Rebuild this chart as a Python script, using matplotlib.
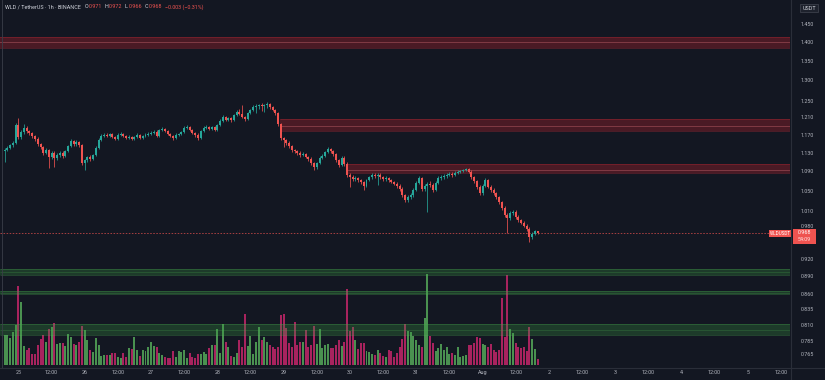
import numpy as np
import pandas as pd
import matplotlib
matplotlib.use("Agg")
import matplotlib.pyplot as plt
import matplotlib.dates as mdates
from matplotlib.lines import Line2D
from matplotlib.patches import Rectangle

# ---------------- data (WLD/USDT, 1h, Binance) ----------------
start_time = "2025-07-24 19:00"
first_open = 1.133
closes = [
    1.136, 1.141, 1.147, 1.152, 1.192, 1.165, 1.176, 1.186, 1.179, 1.174,
    1.167, 1.161, 1.149, 1.143, 1.130, 1.136, 1.121, 1.130, 1.119, 1.125,
    1.130, 1.123, 1.134, 1.145, 1.156, 1.149, 1.154, 1.147, 1.108, 1.114,
    1.121, 1.117, 1.125, 1.141, 1.158, 1.167, 1.170, 1.167, 1.172, 1.165,
    1.161, 1.170, 1.172, 1.167, 1.163, 1.165, 1.161, 1.165, 1.170, 1.163,
    1.167, 1.170, 1.172, 1.174, 1.176, 1.167, 1.181, 1.183, 1.179, 1.172,
    1.167, 1.163, 1.170, 1.172, 1.176, 1.186, 1.188, 1.181, 1.174, 1.170,
    1.163, 1.179, 1.186, 1.188, 1.183, 1.188, 1.181, 1.192, 1.202, 1.211,
    1.204, 1.209, 1.204, 1.216, 1.223, 1.218, 1.211, 1.206, 1.220, 1.228,
    1.235, 1.237, 1.239, 1.237, 1.239, 1.242, 1.235, 1.228, 1.220, 1.195,
    1.163, 1.158, 1.152, 1.145, 1.136, 1.134, 1.130, 1.125, 1.127, 1.121,
    1.117, 1.108, 1.099, 1.108, 1.119, 1.123, 1.132, 1.138, 1.134, 1.127,
    1.114, 1.104, 1.119, 1.106, 1.083, 1.078, 1.074, 1.076, 1.072, 1.068,
    1.060, 1.072, 1.078, 1.083, 1.080, 1.083, 1.078, 1.074, 1.076, 1.072,
    1.068, 1.064, 1.060, 1.054, 1.041, 1.031, 1.037, 1.041, 1.052, 1.066,
    1.076, 1.054, 1.060, 1.064, 1.062, 1.052, 1.066, 1.076, 1.078, 1.080,
    1.083, 1.085, 1.083, 1.087, 1.089, 1.091, 1.093, 1.095, 1.089, 1.078,
    1.070, 1.058, 1.045, 1.060, 1.072, 1.058, 1.052, 1.045, 1.037, 1.027,
    1.016, 1.002, 0.996, 1.006, 1.008, 0.998, 0.992, 0.987, 0.981, 0.975,
    0.960, 0.966, 0.971, 0.968,
]
highs = [
    1.140, 1.144, 1.150, 1.156, 1.198, 1.209, 1.180, 1.195, 1.190, 1.182,
    1.177, 1.170, 1.164, 1.152, 1.146, 1.140, 1.139, 1.134, 1.133, 1.129,
    1.134, 1.133, 1.137, 1.148, 1.160, 1.159, 1.158, 1.157, 1.150, 1.117,
    1.124, 1.125, 1.128, 1.144, 1.162, 1.171, 1.174, 1.173, 1.175, 1.175,
    1.168, 1.173, 1.176, 1.175, 1.170, 1.169, 1.168, 1.168, 1.173, 1.172,
    1.170, 1.173, 1.176, 1.178, 1.181, 1.180, 1.184, 1.187, 1.186, 1.182,
    1.175, 1.170, 1.173, 1.175, 1.179, 1.189, 1.192, 1.191, 1.184, 1.177,
    1.173, 1.182, 1.189, 1.192, 1.191, 1.191, 1.191, 1.195, 1.206, 1.215,
    1.214, 1.212, 1.212, 1.219, 1.227, 1.230, 1.239, 1.214, 1.223, 1.231,
    1.239, 1.241, 1.243, 1.244, 1.242, 1.246, 1.245, 1.238, 1.231, 1.223,
    1.198, 1.166, 1.161, 1.155, 1.148, 1.139, 1.137, 1.133, 1.131, 1.130,
    1.124, 1.120, 1.111, 1.111, 1.122, 1.127, 1.135, 1.143, 1.141, 1.137,
    1.130, 1.117, 1.122, 1.122, 1.109, 1.086, 1.082, 1.080, 1.079, 1.075,
    1.071, 1.075, 1.081, 1.086, 1.087, 1.086, 1.087, 1.081, 1.080, 1.079,
    1.075, 1.071, 1.067, 1.063, 1.057, 1.044, 1.041, 1.045, 1.055, 1.069,
    1.080, 1.079, 1.064, 1.068, 1.070, 1.066, 1.069, 1.080, 1.082, 1.084,
    1.086, 1.088, 1.088, 1.090, 1.092, 1.094, 1.096, 1.098, 1.098, 1.092,
    1.081, 1.073, 1.061, 1.063, 1.076, 1.075, 1.061, 1.055, 1.048, 1.040,
    1.030, 1.019, 1.005, 1.009, 1.011, 1.011, 1.001, 0.995, 0.990, 0.984,
    0.978, 0.969, 0.974, 0.972,
]
lows = [
    1.110, 1.133, 1.138, 1.143, 1.149, 1.161, 1.161, 1.172, 1.175, 1.170,
    1.163, 1.157, 1.146, 1.139, 1.126, 1.127, 1.097, 1.117, 1.100, 1.115,
    1.121, 1.119, 1.120, 1.131, 1.142, 1.145, 1.146, 1.143, 1.104, 1.093,
    1.111, 1.113, 1.114, 1.122, 1.138, 1.155, 1.164, 1.164, 1.164, 1.162,
    1.158, 1.158, 1.167, 1.164, 1.160, 1.160, 1.158, 1.158, 1.162, 1.160,
    1.160, 1.164, 1.167, 1.169, 1.171, 1.164, 1.164, 1.178, 1.176, 1.169,
    1.164, 1.159, 1.160, 1.167, 1.169, 1.173, 1.183, 1.178, 1.171, 1.166,
    1.159, 1.160, 1.176, 1.183, 1.180, 1.180, 1.178, 1.178, 1.189, 1.199,
    1.201, 1.201, 1.200, 1.201, 1.213, 1.215, 1.208, 1.202, 1.203, 1.217,
    1.225, 1.220, 1.230, 1.225, 1.222, 1.232, 1.231, 1.224, 1.216, 1.191,
    1.158, 1.143, 1.148, 1.141, 1.132, 1.130, 1.126, 1.121, 1.122, 1.118,
    1.113, 1.104, 1.094, 1.096, 1.105, 1.116, 1.120, 1.129, 1.130, 1.124,
    1.110, 1.100, 1.101, 1.102, 1.079, 1.058, 1.070, 1.071, 1.068, 1.064,
    1.052, 1.057, 1.069, 1.075, 1.077, 1.062, 1.075, 1.071, 1.071, 1.068,
    1.065, 1.061, 1.056, 1.050, 1.037, 1.027, 1.028, 1.034, 1.038, 1.049,
    1.063, 1.050, 1.050, 1.008, 1.058, 1.048, 1.049, 1.063, 1.073, 1.075,
    1.077, 1.080, 1.079, 1.080, 1.084, 1.086, 1.088, 1.090, 1.086, 1.075,
    1.066, 1.054, 1.041, 1.042, 1.057, 1.055, 1.048, 1.041, 1.033, 1.023,
    1.012, 0.998, 0.968, 0.993, 1.002, 0.995, 0.989, 0.984, 0.978, 0.972,
    0.951, 0.957, 0.963, 0.966,
]
volumes = [
    90, 90, 82, 100, 120, 237, 190, 57, 45, 50,
    33, 33, 60, 78, 90, 70, 107, 115, 125, 62,
    65, 65, 57, 93, 85, 63, 60, 70, 117, 105,
    75, 45, 40, 80, 60, 27, 30, 30, 30, 35,
    35, 25, 20, 35, 25, 50, 47, 83, 45, 27,
    45, 43, 53, 70, 57, 53, 35, 30, 23, 20,
    20, 43, 23, 43, 40, 45, 22, 35, 25, 20,
    32, 33, 40, 33, 50, 60, 60, 107, 35, 123,
    70, 55, 27, 25, 35, 75, 55, 153, 57, 87,
    33, 70, 113, 75, 85, 70, 60, 53, 47, 55,
    150, 153, 110, 67, 55, 130, 60, 70, 70, 105,
    53, 60, 117, 63, 107, 50, 60, 62, 50, 50,
    60, 75, 57, 70, 227, 103, 113, 75, 47, 67,
    67, 43, 40, 33, 30, 45, 37, 27, 25, 45,
    43, 25, 35, 53, 77, 123, 103, 100, 87, 75,
    60, 53, 140, 273, 87, 65, 43, 50, 63, 45,
    53, 33, 37, 30, 53, 25, 27, 30, 60, 60,
    67, 85, 80, 63, 60, 53, 63, 45, 40, 45,
    200, 83, 270, 107, 95, 67, 53, 50, 53, 43,
    113, 77, 47, 17,
]

# resistance (red) and support (green) zones: low, high, mid, start time
res_low = [1.385, 1.1775, 1.086]
res_high = [1.413, 1.2069, 1.1057]
res_mid = [1.399, 1.190, 1.0927]
res_start = ["2025-07-24 17:00", "2025-07-28 22:40", "2025-07-29 23:00"]
sup_low = [0.8925, 0.8600, 0.7947]
sup_high = [0.9024, 0.8648, 0.8118]
sup_mid = [0.8975, 0.8624, 0.8024]

price_ticks = [1.45, 1.40, 1.35, 1.30, 1.25, 1.21, 1.17, 1.13, 1.09, 1.05,
               1.01, 0.98, 0.92, 0.89, 0.86, 0.835, 0.81, 0.785, 0.765]
time_tick_start = "2025-07-25 00:00"
time_labels = ["25", "12:00", "26", "12:00", "27", "12:00", "28", "12:00",
               "29", "12:00", "30", "12:00", "31", "12:00", "Aug", "12:00",
               "2", "12:00", "3", "12:00", "4", "12:00", "5", "12:00"]
view_start = "2025-07-24 17:20"
view_end = "2025-08-05 15:18"
countdown = "54:09"
symbol = "WLDUSDT"

# ---------------- styling ----------------
W, H = 825, 380
BG = "#131722"
UP = "#26a69a"
DN = "#ef5350"
VUP = "#4a9150"
VDN = "#a8235e"
TXT = "#b2b5be"
SEP = "#2a2e39"
FONT = ["Roboto", "DejaVu Sans"]
FS = 3.9

def fx(x):
    return x / W

def fy(y):
    return 1 - y / H

opens = [first_open] + closes[:-1]
o = np.array(opens); c = np.array(closes)
hi = np.array(highs); lo = np.array(lows)
t = mdates.date2num(pd.date_range(start_time, periods=len(closes), freq="h"))
up = c >= o

fig = plt.figure(figsize=(W / 100, H / 100), dpi=100, facecolor=BG)
rect = [0, fy(367), fx(790), 367 / H]
axv = fig.add_axes(rect)
axv.set_facecolor(BG)
ax = fig.add_axes(rect, sharex=axv)
ax.set_facecolor("none")

x0 = mdates.date2num(pd.Timestamp(view_start))
x1 = mdates.date2num(pd.Timestamp(view_end))

# volume
axv.bar(t, volumes, width=0.72 / 24, color=np.where(up, VUP, VDN), linewidth=0)
axv.set_ylim(-6, -6 + 367 * 3)
axv.axis("off")

# price
ax.set_yscale("log")
ax.set_ylim(0.7467, 1.5185)
ax.set_xlim(x0, x1)

for lo_, hi_, mid_, st in zip(res_low, res_high, res_mid, res_start):
    xs = mdates.date2num(pd.Timestamp(st))
    ax.fill_between([xs, x1], lo_, hi_, color=(0.80, 0.13, 0.18, 0.30), linewidth=0, zorder=1)
    ax.hlines([lo_, hi_], xs, x1, color=(0.85, 0.18, 0.22, 0.40), lw=0.5, zorder=1)
    ax.hlines(mid_, xs, x1, color=(0.95, 0.50, 0.52, 0.45), lw=0.5, zorder=1)
for lo_, hi_, mid_ in zip(sup_low, sup_high, sup_mid):
    ax.fill_between([x0, x1], lo_, hi_, color=(0.22, 0.60, 0.25, 0.28), linewidth=0, zorder=1)
    ax.hlines([lo_, hi_], x0, x1, color=(0.3, 0.7, 0.32, 0.40), lw=0.5, zorder=1)
    ax.hlines(mid_, x0, x1, color=(0.3, 0.7, 0.32, 0.30), lw=0.5, zorder=1)

cols = np.where(up, UP, DN)
ax.vlines(t, lo, hi, colors=cols, lw=0.55, zorder=3)
body = np.maximum(np.abs(c - o), 0.0006)
ax.bar(t, body, bottom=np.minimum(o, c), width=0.72 / 24, color=cols, linewidth=0, zorder=4)

last = closes[-1]
ax.axhline(last, color=DN, lw=0.55, ls=(0, (2, 2)), alpha=0.85, zorder=2)

for s in ax.spines.values():
    s.set_visible(False)
ax.yaxis.tick_right()
ax.yaxis.set_minor_locator(matplotlib.ticker.NullLocator())
ax.set_yticks(price_ticks)
ax.set_yticklabels([f"{p:.3f}" for p in price_ticks], fontsize=FS, color=TXT, family=FONT)
ax.tick_params(axis="y", length=0, pad=7.5)
tick_pos = mdates.date2num(pd.date_range(time_tick_start, periods=len(time_labels), freq="12h"))
ax.set_xticks(tick_pos)
ax.set_xticklabels(time_labels, fontsize=FS, color=TXT, family=FONT)
ax.tick_params(axis="x", length=0, pad=2.2)

# separators
fig.add_artist(Line2D([fx(790.5)] * 2, [0, 1], color=SEP, lw=0.8))
fig.add_artist(Line2D([0, 1], [fy(367.5)] * 2, color=SEP, lw=0.8))
fig.add_artist(Line2D([fx(1.5)] * 2, [fy(367), 1], color="#3a3e49", lw=0.6))

# USDT box
fig.text(fx(809), fy(8), "USDT", fontsize=FS, color="#d1d4dc", ha="center", va="center", family=FONT,
         bbox=dict(boxstyle="square,pad=0.35", fc="#1e222d", ec="#434651", lw=0.5))

# last price label
fig.add_artist(Rectangle((fx(793), fy(243.5)), fx(23), 15 / H, transform=fig.transFigure,
                         fc=DN, ec="none"))
fig.text(fx(804.5), fy(233), f"{last:.3f}", fontsize=FS, color="white", ha="center", va="center", family=FONT)
fig.text(fx(804.5), fy(239.5), countdown, fontsize=FS, color="#ffe0e0", ha="center", va="center", family=FONT)
fig.add_artist(Rectangle((fx(769), fy(237)), fx(22), 7 / H, transform=fig.transFigure,
                         fc=DN, ec="none"))
fig.text(fx(780), fy(233.3), symbol, fontsize=3.3, color="white", ha="center", va="center", family=FONT)

# header legend
chg = closes[-1] - closes[-2]
pct = chg / closes[-2] * 100
renderer = fig.canvas.get_renderer()
vcol = DN if closes[-1] < opens[-1] else UP
parts = [("WLD / TetherUS · 1h · BINANCE", "#d1d4dc", 3.5),
         ("O", "#d1d4dc", 0.6), (f"{opens[-1]:.3f}", vcol, 2.5),
         ("H", "#d1d4dc", 0.6), (f"{highs[-1]:.3f}", vcol, 2.5),
         ("L", "#d1d4dc", 0.6), (f"{lows[-1]:.3f}", vcol, 2.5),
         ("C", "#d1d4dc", 0.6), (f"{closes[-1]:.3f}", vcol, 2.5),
         (f"{chg:+.3f} ({pct:+.2f}%)".replace("-", "\u2212"), vcol, 0)]
xp = 5
for s, col, gap in parts:
    tx = fig.text(fx(xp), fy(7), s, fontsize=FS, color=col, ha="left", va="center", family=FONT)
    bb = tx.get_window_extent(renderer)
    xp += bb.width + gap

fig.savefig("out.png", dpi=100, facecolor=BG)
